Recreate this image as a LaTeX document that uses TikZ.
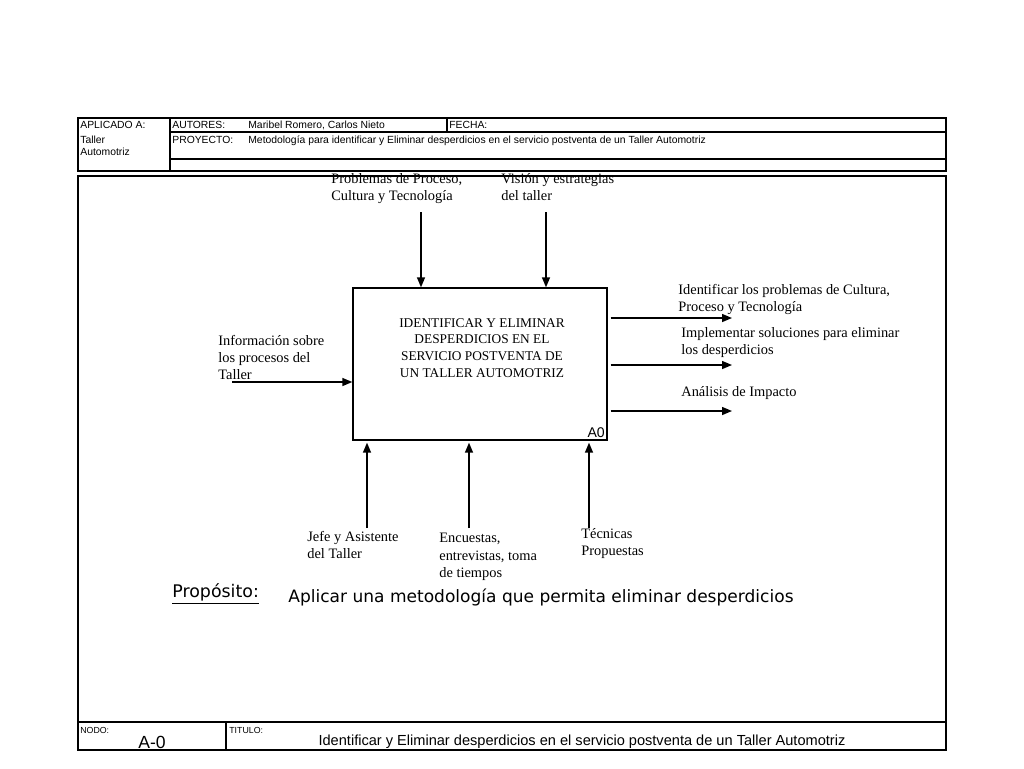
\documentclass[tikz,border=0pt]{standalone}
\usepackage{fontspec}
\setmainfont{Liberation Serif}
\newfontfamily\hdrfont{Liberation Sans}
\newfontfamily\purpfont{DejaVu Sans}
\usetikzlibrary{arrows.meta,positioning,calc}

\begin{document}
\begin{tikzpicture}[
  x=0.02cm,y=-0.02cm,
  frame/.style={draw,line width=0.8pt},
  hdr/.style={font=\hdrfont\fontsize{5.9}{6.5}\selectfont,anchor=base west,inner sep=0pt},
  lbl/.style={font=\fontsize{8.2}{9.8}\selectfont,align=left,anchor=north west,inner sep=0pt},
  arr/.style={line width=0.8pt,-{Triangle[length=2mm,width=1.6mm]}},
  func/.style={rectangle,draw,line width=0.8pt,minimum width=5.08cm,minimum height=3.04cm}
]
  \useasboundingbox (0,0) rectangle (1024,768);

  % header form
  \draw[frame] (78,118) rectangle (946,171);
  \draw[frame] (170,118) -- (170,171);
  \draw[frame] (170,132) -- (946,132);
  \draw[frame] (170,159) -- (946,159);
  \draw[frame] (447,118) -- (447,132);
  \node[hdr] (aplicado) at (80,128) {APLICADO A:};
  \node[hdr] (taller) at (80,143) {Taller};
  \node[hdr] (automotriz) at (80,155) {Automotriz};
  \node[hdr] (autores) at (172,128) {AUTORES:};
  \node[hdr] (nombres) at (248,128) {Maribel Romero, Carlos Nieto};
  \node[hdr] (fecha) at (449,128) {FECHA:};
  \node[hdr] (proyecto) at (172,143) {PROYECTO:};
  \node[hdr] (metodo) at (248,143) {Metodología para identificar y Eliminar desperdicios en el servicio postventa de un Taller Automotriz};

  % main frame
  \draw[frame] (78,176) rectangle (946,750);
  \draw[frame] (78,722) -- (946,722);
  \draw[frame] (226,722) -- (226,750);

  % activity box
  \node[func] (a0) at (480,364) {};
  \node[align=center,font=\fontsize{7.6}{9.6}\selectfont] (ftitle) at (482,348)
    {IDENTIFICAR Y ELIMINAR\\DESPERDICIOS EN EL\\SERVICIO POSTVENTA DE\\UN TALLER AUTOMOTRIZ};
  \node[anchor=south east,inner sep=1.5pt,font=\hdrfont\fontsize{8}{9}\selectfont] (a0lbl) at (a0.south east) {A0};

  % controls
  \coordinate (ctrla) at (421,212);
  \coordinate (ctrlb) at (546,212);
  \draw[arr] (ctrla) -- (ctrla |- a0.north);
  \draw[arr] (ctrlb) -- (ctrlb |- a0.north);
  \node[lbl] (ctrlatxt) at (331,173) {Problemas de Proceso,\\Cultura y Tecnología};
  \node[lbl] (ctrlbtxt) at (501,173) {Visión y estrategias\\del taller};

  % input
  \coordinate (inp) at (232,382);
  \draw[arr] (inp) -- (inp -| a0.west);
  \node[lbl] (inptxt) at (218,335) {Información sobre\\los procesos del\\Taller};

  % outputs
  \coordinate (outa) at (732,318);
  \coordinate (outb) at (732,365);
  \coordinate (outc) at (732,411);
  \draw[arr] ($(outa -| a0.east)+(3,0)$) -- (outa);
  \draw[arr] ($(outb -| a0.east)+(3,0)$) -- (outb);
  \draw[arr] ($(outc -| a0.east)+(3,0)$) -- (outc);
  \node[lbl] (outatxt) at (678,284) {Identificar los problemas de Cultura,\\Proceso y Tecnología};
  \node[lbl] (outbtxt) at (681,327) {Implementar soluciones para eliminar\\los desperdicios};
  \node[lbl] (outctxt) at (681,386) {Análisis de Impacto};

  % mechanisms
  \coordinate (meca) at (367,528);
  \coordinate (mecb) at (469,528);
  \coordinate (mecc) at (589,528);
  \draw[arr] (meca) -- ($(meca |- a0.south)+(0,2)$);
  \draw[arr] (mecb) -- ($(mecb |- a0.south)+(0,2)$);
  \draw[arr] (mecc) -- ($(mecc |- a0.south)+(0,2)$);
  \node[lbl] (mecatxt) at (307,531) {Jefe y Asistente\\del Taller};
  \node[lbl] (mecbtxt) at (439,533) {Encuestas,\\entrevistas, toma\\de tiempos};
  \node[lbl] (mecctxt) at (581,528) {Técnicas\\Propuestas};

  % purpose
  \node[anchor=west,inner sep=0pt,font=\purpfont\fontsize{9.9}{12}\selectfont] (proplbl) at (172,594) {\underline{Propósito:}};
  \node[anchor=west,inner sep=0pt,font=\purpfont\fontsize{9.7}{12}\selectfont] (proptxt) at (288,597) {Aplicar una metodología que permita eliminar desperdicios};

  % footer
  \node[hdr,font=\hdrfont\fontsize{5}{6}\selectfont] (nodo) at (80,733) {NODO:};
  \node[font=\hdrfont\fontsize{10}{11}\selectfont,inner sep=0pt] (nodoval) at (152,742) {A-0};
  \node[hdr,font=\hdrfont\fontsize{5}{6}\selectfont] (titulo) at (229,733) {TITULO:};
  \node[font=\hdrfont\fontsize{8.3}{9.5}\selectfont,inner sep=0pt] (tituloval) at (582,742) {Identificar y Eliminar desperdicios en el servicio postventa de un Taller Automotriz};
\end{tikzpicture}
\end{document}
